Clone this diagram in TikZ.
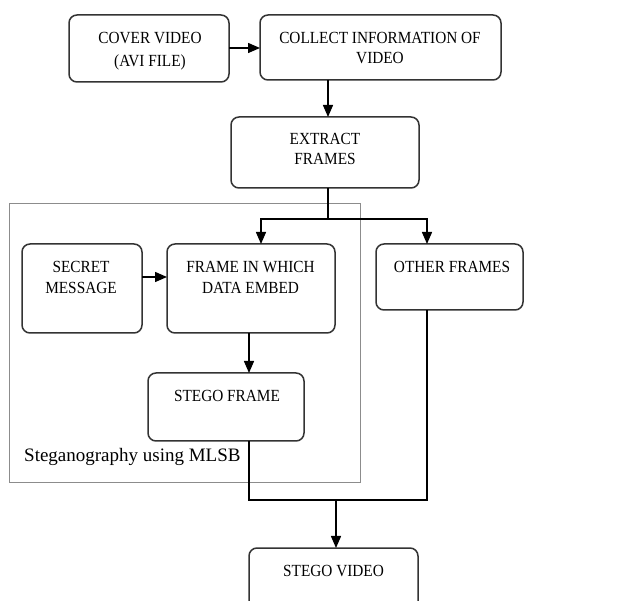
\documentclass[tikz,border=0pt]{standalone}
\usepackage{fontspec}
\setmainfont{Liberation Serif}
\newfontfamily\boxfont[FakeStretch=0.9]{Liberation Serif}
\usetikzlibrary{arrows.meta,calc}
\definecolor{boxline}{HTML}{333333}
\definecolor{groupline}{HTML}{8C8C8C}
\tikzset{
  stepbox/.style={draw=boxline, line width=1.5pt, rounded corners=8pt,
    inner sep=0pt, outer sep=0pt},
  boxtext/.style={anchor=north, inner sep=0pt, align=center,
    font=\boxfont\fontsize{17}{20}\selectfont},
  arr/.style={draw=black, line width=1.4pt,
    -{Triangle[length=12pt,width=10pt]}},
  link/.style={draw=black, line width=1.4pt},
}
\begin{document}
\begin{tikzpicture}[x=1pt,y=-1pt]
\clip (0,0) rectangle (635,601);
\fill[white] (0,0) rectangle (635,601);

% grouping frame for the embedding stage
\node[draw=groupline, line width=1pt, inner sep=0pt, outer sep=0pt,
      minimum width=351pt, minimum height=279pt] (group) at (184.5,343.5) {};
\node[anchor=base west, inner sep=0pt, font=\fontsize{19}{22}\selectfont]
  (grouplabel) at (24,462) {Steganography using MLSB};

% process boxes
\node[stepbox, minimum width=160pt, minimum height=67pt] (cover) at (149,48.5) {};
\node[stepbox, minimum width=241pt, minimum height=65pt] (collect) at (380.5,47.5) {};
\node[stepbox, minimum width=188pt, minimum height=71pt] (extract) at (325,152.5) {};
\node[stepbox, minimum width=120pt, minimum height=89pt] (secret) at (82,288.5) {};
\node[stepbox, minimum width=168pt, minimum height=89pt] (frame) at (251,288.5) {};
\node[stepbox, minimum width=147pt, minimum height=66pt] (other) at (449.5,277) {};
\node[stepbox, minimum width=156pt, minimum height=68pt] (stegof) at (226,407) {};
\node[stepbox, minimum width=169pt, minimum height=80pt] (video) at (333.5,588) {};

% box captions
\node[boxtext] (cover-t) at (150,32) {COVER VIDEO\\[3.5pt](AVI FILE)};
\node[boxtext] (collect-t) at (380,32) {COLLECT INFORMATION OF\\VIDEO};
\node[boxtext] (extract-t) at (325,133) {EXTRACT\\FRAMES};
\node[boxtext] (secret-t) at (81,261) {SECRET\\[1.5pt]MESSAGE};
\node[boxtext] (frame-t) at (250.5,261) {FRAME IN WHICH\\[1pt]DATA EMBED};
\node[boxtext] (other-t) at (452,261) {OTHER FRAMES};
\node[boxtext] (stegof-t) at (227,390) {STEGO FRAME};
\node[boxtext] (video-t) at (333.5,565) {STEGO VIDEO};

% connectors
\coordinate (split) at (328,219);
\draw[arr] (cover.east |- 0,48) -- (collect.west |- 0,48);
\draw[arr] (split |- collect.south) -- (split |- extract.north);

\draw[link] (split |- extract.south) -- (split);
\draw[arr] (split) -| ([xshift=10pt]frame.north);
\draw[arr] (split) -| ([xshift=-22.5pt]other.north);

\draw[arr] ([yshift=11.5pt]secret.east) -- ([yshift=11.5pt]frame.west);
\draw[arr] ([xshift=-2pt]frame.south) -- ([xshift=-2pt]frame.south |- stegof.north);

\coordinate (merge) at (336,500);
\draw[link] ([xshift=23pt]stegof.south) |- (merge) -| ([xshift=-22.5pt]other.south);
\draw[arr] (merge) -- (merge |- video.north);
\end{tikzpicture}
\end{document}
